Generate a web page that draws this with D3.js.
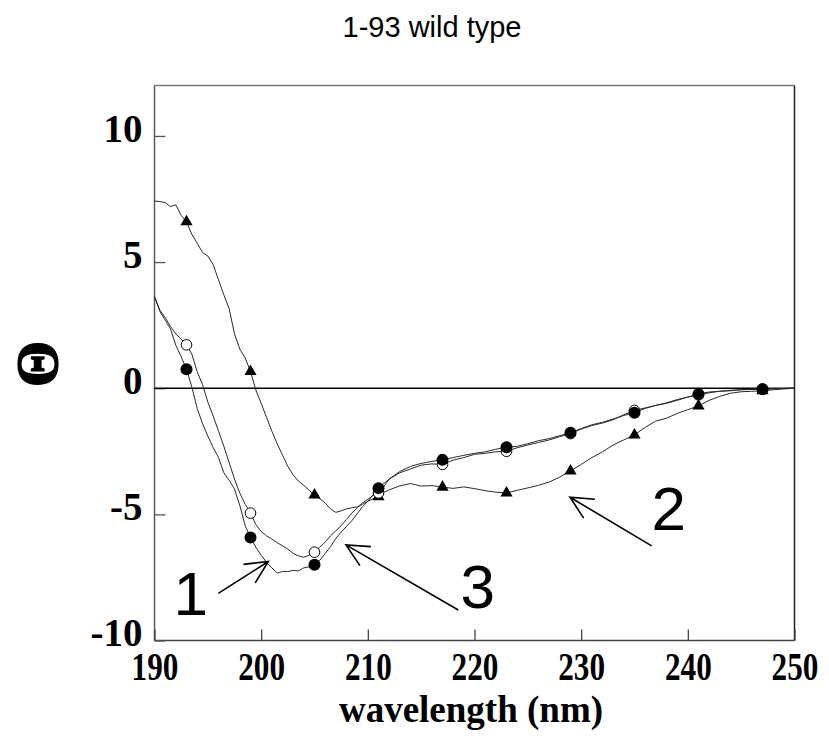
<!DOCTYPE html>
<html>
<head>
<meta charset="utf-8">
<script src="https://cdn.jsdelivr.net/npm/d3@7"></script>
<style>
  body { margin: 0; background: #fff; }
  svg { display: block; }
</style>
</head>
<body>
<svg id="chart" width="829" height="738"></svg>
<script>
// CD spectra of the 1-93 wild type construct
const chartTitle = "1-93 wild type";
const xTitle = "wavelength (nm)";
const yTitle = "\u0398";
const xTicks = [190, 200, 210, 220, 230, 240, 250];
const yTicks = [-10, -5, 0, 5, 10];

// sampling grid: 0.5 nm steps up to 212 nm, 1 nm steps after
const wavelengths = d3.range(190, 212.25, 0.5).concat(d3.range(213, 251, 1));

// trace 1 (filled circles)
const trace1 = [
  3.63, 3.05, 2.70, 2.35, 1.70, 1.25, 0.75, 0.05, -0.80, -1.40,
  -1.90, -2.35, -2.75, -3.35, -3.65, -4.00, -4.65, -5.45, -5.92, -6.30,
  -6.62, -6.90, -7.12, -7.33, -7.26, -7.27, -7.22, -7.24, -7.12, -7.08,
  -7.00, -6.82, -6.55, -6.28, -5.95, -5.70, -5.48, -5.25, -4.98, -4.70,
  -4.48, -4.22, -3.96, -3.78, -3.60,
  -3.30, -3.10, -2.98, -2.90, -2.84, -2.75, -2.66, -2.58, -2.52, -2.42,
  -2.34, -2.30, -2.20, -2.08, -2.00, -1.88, -1.76, -1.60, -1.45, -1.35,
  -1.22, -1.08, -0.97, -0.80, -0.68, -0.60, -0.48, -0.35, -0.23, -0.15,
  -0.12, -0.08, -0.06, -0.05, -0.04, -0.02, -0.01, 0.00
];

// trace 2 (filled triangles)
const trace2 = [
  7.42, 7.40, 7.36, 7.20, 7.27, 6.85, 6.60, 6.10, 5.75, 5.38,
  5.24, 4.90, 4.30, 3.70, 3.15, 2.15, 1.55, 1.20, 0.66, -0.07,
  -0.60, -1.15, -1.70, -2.20, -2.65, -3.10, -3.44, -3.68, -3.85, -4.05,
  -4.23, -4.38, -4.55, -4.78, -4.92, -4.86, -4.78, -4.74, -4.70, -4.60,
  -4.48, -4.38, -4.30, -4.12, -4.03,
  -3.87, -3.78, -3.88, -3.86, -3.92, -3.97, -3.91, -3.98, -4.06, -4.12,
  -4.15, -4.05, -3.95, -3.85, -3.72, -3.52, -3.28, -3.02, -2.75, -2.52,
  -2.25, -2.05, -1.85, -1.55, -1.30, -1.19, -1.00, -0.85, -0.70, -0.48,
  -0.32, -0.20, -0.14, -0.12, -0.10, -0.06, -0.03, 0.00
];

// trace 3 (open circles)
const trace3 = [
  3.63, 3.10, 2.80, 2.45, 2.15, 1.95, 1.72, 1.35, 0.65, 0.15,
  -0.55, -1.10, -1.70, -2.30, -2.95, -3.60, -4.16, -4.60, -4.95, -5.40,
  -5.68, -5.85, -5.98, -6.12, -6.25, -6.38, -6.55, -6.65, -6.70, -6.62,
  -6.50, -6.30, -6.10, -5.85, -5.65, -5.45, -5.20, -4.95, -4.75, -4.55,
  -4.40, -4.25, -4.15, -3.90, -3.60,
  -3.35, -3.20, -3.05, -3.00, -3.02, -2.85, -2.75, -2.62, -2.58, -2.52,
  -2.50, -2.36, -2.25, -2.15, -2.05, -1.92, -1.80, -1.62, -1.48, -1.38,
  -1.25, -1.05, -0.88, -0.78, -0.68, -0.58, -0.45, -0.35, -0.26, -0.18,
  -0.12, -0.10, -0.06, -0.04, -0.03, -0.02, -0.01, 0.00
];

// wavelengths that carry a symbol on every trace
const markerWavelengths = [193, 199, 205, 211, 217, 223, 229, 235, 241, 247];

// numbered call-outs, positions in data units (nm, signal)
const callouts = [
  { label: "1", at: [193.4, -8.99], tail: [195.98, -8.13], tip: [200.67, -6.87] },
  { label: "3", at: [220.3, -8.71], tail: [218.48, -8.79], tip: [207.95, -6.21] },
  { label: "2", at: [238.2, -5.62], tail: [236.61, -6.25], tip: [228.95, -4.32] }
];

const svg = d3.select("#chart");
const plot = { left: 154.5, right: 794.5, top: 85.5, bottom: 640.5 };

const x = d3.scaleLinear().domain([190, 250]).range([plot.left, plot.right]);
const y = d3.scaleLinear().domain([-10, 12]).range([plot.bottom, plot.top]);

const serif = "'Liberation Serif', 'Times New Roman', Times, serif";
const sans = "'Liberation Sans', Arial, Helvetica, sans-serif";
const plainNumber = d => String(d);   // keeps an ASCII hyphen for negatives

// title
svg.append("text")
  .attr("x", 432).attr("y", 37)
  .attr("text-anchor", "middle")
  .attr("font-family", sans).attr("font-size", 29)
  .attr("fill", "#000")
  .text(chartTitle);

// frame
const frame = svg.append("g").attr("fill", "none").attr("stroke-width", 1.5);
frame.append("line").attr("x1", plot.left).attr("x2", plot.right).attr("y1", plot.top).attr("y2", plot.top).attr("stroke", "#7a7a7a");
frame.append("line").attr("x1", plot.left).attr("x2", plot.left).attr("y1", plot.top).attr("y2", plot.bottom).attr("stroke", "#5a5a5a");
frame.append("line").attr("x1", plot.right).attr("x2", plot.right).attr("y1", plot.top).attr("y2", plot.bottom).attr("stroke", "#222");
frame.append("line").attr("x1", plot.left).attr("x2", plot.right).attr("y1", plot.bottom).attr("y2", plot.bottom).attr("stroke", "#444");

// axes with inward ticks
const yAxis = svg.append("g")
  .attr("transform", `translate(${plot.left},0)`)
  .call(d3.axisLeft(y).tickValues(yTicks).tickSizeInner(-11).tickSizeOuter(0).tickPadding(12).tickFormat(plainNumber));
yAxis.select(".domain").remove();
yAxis.selectAll(".tick line").attr("stroke", "#555").attr("stroke-width", 1.3);
yAxis.selectAll(".tick text")
  .attr("dy", "0.14em")
  .attr("font-family", serif).attr("font-size", 39).attr("font-weight", "bold")
  .attr("fill", "#000");

const xAxis = svg.append("g")
  .attr("transform", `translate(0,${plot.bottom})`)
  .call(d3.axisBottom(x).tickValues(xTicks).tickSizeInner(-11).tickSizeOuter(0).tickFormat(plainNumber));
xAxis.select(".domain").remove();
xAxis.selectAll(".tick line").attr("stroke", "#444").attr("stroke-width", 1.3);
// tall, narrow numerals under the wavelength axis
xAxis.selectAll(".tick text")
  .attr("y", 0).attr("dy", null)
  .attr("transform", "translate(0,39.5) scale(0.8,1)")
  .attr("font-family", serif).attr("font-size", 39).attr("font-weight", "bold")
  .attr("fill", "#000");

// axis titles
svg.append("text")
  .attr("x", 471).attr("y", 722)
  .attr("text-anchor", "middle")
  .attr("font-family", serif).attr("font-size", 37).attr("font-weight", "bold")
  .text(xTitle);

svg.append("text")
  .attr("transform", "translate(37,364) rotate(-90)")
  .attr("text-anchor", "middle").attr("dominant-baseline", "central")
  .attr("font-family", serif).attr("font-size", 60).attr("font-weight", "bold")
  .attr("stroke", "#000").attr("stroke-width", 1.2)
  .text(yTitle);

// zero line
svg.append("line")
  .attr("x1", x(190)).attr("x2", x(250))
  .attr("y1", y(0)).attr("y2", y(0))
  .attr("stroke", "#000").attr("stroke-width", 1.4);

// traces
const series = [
  { key: "t2", values: trace2, symbol: "triangle" },
  { key: "t3", values: trace3, symbol: "open" },
  { key: "t1", values: trace1, symbol: "filled" }
];

const line = d3.line()
  .x(d => x(d[0]))
  .y(d => y(d[1]));

series.forEach(s => {
  const pts = wavelengths.map((w, i) => [w, s.values[i]]);
  svg.append("path")
    .datum(pts)
    .attr("fill", "none")
    .attr("stroke", "#2a2a2a")
    .attr("stroke-width", 1)
    .attr("stroke-linejoin", "round")
    .attr("d", line);
});

// symbols, looked up from each trace at the marker wavelengths
const valueAt = (vals, w) => vals[wavelengths.indexOf(w)];
const triangle = d3.symbol().type(d3.symbolTriangle).size(64);

series.forEach(s => {
  const g = svg.append("g");
  markerWavelengths.forEach(w => {
    const v = valueAt(s.values, w);
    if (s.symbol === "triangle") {
      g.append("path")
        .attr("d", triangle())
        .attr("transform", `translate(${x(w)},${y(v)})`)
        .attr("fill", "#000");
    } else if (s.symbol === "open") {
      g.append("circle")
        .attr("cx", x(w)).attr("cy", y(v)).attr("r", 5.3)
        .attr("fill", "#fff").attr("stroke", "#000").attr("stroke-width", 1);
    } else {
      g.append("circle")
        .attr("cx", x(w)).attr("cy", y(v)).attr("r", 6)
        .attr("fill", "#000");
    }
  });
});

// call-out arrows and numbers
const headLen = 25, headAngle = 26 * Math.PI / 180;
callouts.forEach(c => {
  const tx = x(c.tip[0]), ty = y(c.tip[1]);
  const sx = x(c.tail[0]), sy = y(c.tail[1]);
  const back = Math.atan2(sy - ty, sx - tx);
  const h1 = [tx + headLen * Math.cos(back - headAngle), ty + headLen * Math.sin(back - headAngle)];
  const h2 = [tx + headLen * Math.cos(back + headAngle), ty + headLen * Math.sin(back + headAngle)];
  svg.append("path")
    .attr("d", `M${sx},${sy}L${tx},${ty}M${h1[0]},${h1[1]}L${tx},${ty}L${h2[0]},${h2[1]}`)
    .attr("fill", "none").attr("stroke", "#000").attr("stroke-width", 1.6);
  svg.append("text")
    .attr("x", x(c.at[0])).attr("y", y(c.at[1]))
    .attr("text-anchor", "middle")
    .attr("font-family", sans).attr("font-size", 62)
    .attr("fill", "#000")
    .text(c.label);
});
</script>
</body>
</html>
